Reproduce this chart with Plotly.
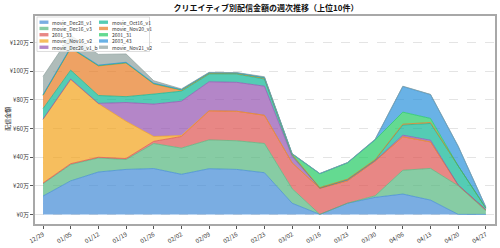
import plotly.graph_objects as go

weeks = ["12/29", "01/05", "01/12", "01/19", "01/26", "02/02", "02/09", "02/16", "02/23",
         "03/02", "03/16", "03/23", "03/30", "04/06", "04/13", "04/20", "04/27"]

# values in 万円
movie_Dec28_v1 = [12.8, 23.4, 29.6, 31.4, 32.0, 28.0, 31.9, 31.4, 29.1, 7.8, 0.0, 7.8, 11.9, 14.2, 10.0, 0.0, 0.0]
movie_Dec16_v3 = [8.6, 11.4, 9.8, 6.9, 17.5, 18.3, 20.1, 20.0, 20.4, 10.2, 0.0, 0.0, 1.1, 16.6, 22.1, 20.0, 2.5]
s2601_33 = [0.5, 0.6, 0.5, 0.7, 1.5, 8.1, 20.3, 20.6, 19.7, 18.0, 18.2, 15.6, 24.2, 23.4, 18.5, 0.4, 0.7]
movie_Nov16_v2 = [44.4, 58.6, 37.4, 26.0, 3.4, 0.6, 0.0, 0.0, 0.0, 0.0, 0.0, 0.0, 0.0, 0.0, 0.0, 0.0, 0.0]
movie_Dec26_v1_b = [0.2, 0.5, 0.2, 13.1, 22.6, 24.0, 20.3, 20.2, 20.3, 4.5, 0.1, 0.6, 0.3, 1.1, 1.2, 0.1, 0.1]
movie_Oct16_v1 = [7.3, 6.2, 5.5, 4.1, 7.0, 7.0, 5.3, 5.7, 5.0, 1.0, 0.2, 0.3, 0.5, 7.1, 11.7, 13.0, 1.0]
movie_Nov20_v1 = [9.2, 15.3, 20.6, 23.4, 7.0, 0.5, 0.5, 0.4, 0.5, 0.3, 0.2, 0.3, 0.3, 0.6, 0.7, 0.3, 0.1]
s2601_31 = [0.3, 0.3, 0.3, 0.3, 0.3, 0.5, 0.3, 0.3, 0.4, 0.4, 9.7, 11.4, 13.7, 8.4, 2.8, 0.0, 0.1]
s2603_43 = [0.3, 0.3, 0.3, 0.3, 0.3, 0.2, 0.2, 0.2, 0.2, 0.1, 0.1, 0.1, 0.3, 17.9, 16.6, 13.7, 0.5]
movie_Nov21_v2 = [12.7, 8.4, 7.5, 5.8, 1.7, 0.4, 0.3, 0.2, 0.5, 0.2, 0.1, 0.1, 0.2, 0.2, 0.2, 0.1, 0.1]

names = ["movie_Dec28_v1", "movie_Dec16_v3", "2601_33", "movie_Nov16_v2", "movie_Dec26_v1_b",
         "movie_Oct16_v1", "movie_Nov20_v1", "2601_31", "2603_43", "movie_Nov21_v2"]
series = [movie_Dec28_v1, movie_Dec16_v3, s2601_33, movie_Nov16_v2, movie_Dec26_v1_b,
          movie_Oct16_v1, movie_Nov20_v1, s2601_31, s2603_43, movie_Nov21_v2]
base_colors = [(65, 138, 214), (84, 183, 126), (222, 84, 81), (242, 162, 26), (148, 83, 177),
               (12, 183, 148), (231, 122, 34), (34, 202, 98), (41, 145, 219), (141, 159, 156)]

ytick_vals = [0, 20, 40, 60, 80, 100, 120]
ytick_text = ["¥%d万" % v for v in ytick_vals]

title = "クリエイティブ別配信金額の週次推移（上位10件）"
ytitle = "配信金額"

FONT = "Noto Sans CJK JP"
W, H = 500, 248
L, R, T, B = 35, 3, 16, 21
pw, ph = W - L - R, H - T - B


def px(x):
    return (x - L) / pw


def py(y):
    return (H - B - y) / ph


fig = go.Figure()
for name, vals, c in zip(names, series, base_colors):
    fig.add_trace(go.Scatter(
        x=weeks, y=vals, name=name, stackgroup="one", mode="lines",
        line=dict(color="rgb(%d,%d,%d)" % c, width=0.7),
        fillcolor="rgba(%d,%d,%d,0.7)" % c, showlegend=False,
    ))

shapes = [dict(type="rect", xref="paper", yref="paper", x0=px(37), x1=px(150), y0=py(52), y1=py(17),
               fillcolor="rgba(255,255,255,0.82)", line=dict(color="#d4d4d4", width=0.8), layer="above")]
annotations = []
for k, (name, c) in enumerate(zip(names, base_colors)):
    col, row = divmod(k, 5)
    yc = 22.3 + row * 6.35
    sx = 39.5 if col == 0 else 99.3
    shapes.append(dict(type="rect", xref="paper", yref="paper", x0=px(sx), x1=px(sx + 9),
                       y0=py(yc + 1.7), y1=py(yc - 1.7),
                       fillcolor="rgba(%d,%d,%d,0.7)" % c, line=dict(width=0), layer="above"))
    annotations.append(dict(xref="paper", yref="paper", x=px(sx + 11), y=py(yc), text=name,
                            showarrow=False, xanchor="left", yanchor="middle",
                            font=dict(family=FONT, size=5, color="#333")))

annotations.append(dict(xref="paper", yref="paper", x=px(7), y=py(120), text=ytitle, textangle=-90,
                        showarrow=False, xanchor="center", yanchor="middle",
                        font=dict(family=FONT, size=6, color="#222")))

fig.update_layout(
    width=W, height=H, margin=dict(l=L, r=R, t=T, b=B),
    paper_bgcolor="white", plot_bgcolor="white",
    title=dict(text="<b>" + title + "</b>", x=(L + pw / 2) / W, xanchor="center",
               y=1 - 8 / H, yanchor="middle", font=dict(family=FONT, size=8, color="#111")),
    shapes=shapes, annotations=annotations,
    font=dict(family=FONT, size=6, color="#333"),
)
fig.update_xaxes(type="category", range=[-0.29, 16.33], showgrid=False, tickangle=-30,
                 ticks="outside", ticklen=3, tickwidth=0.8, tickcolor="#555",
                 showline=True, mirror=True, linecolor="#a8a8a8", linewidth=1.5,
                 tickfont=dict(family=FONT, size=6, color="#333"))
fig.update_yaxes(range=[-6.7, 138.5], tickvals=ytick_vals, ticktext=ytick_text,
                 showgrid=True, gridcolor="#e4e4e4", griddash="dash", gridwidth=0.8, zeroline=False,
                 ticks="outside", ticklen=3, tickwidth=0.8, tickcolor="#555",
                 showline=True, mirror=True, linecolor="#a8a8a8", linewidth=1.5,
                 tickfont=dict(family=FONT, size=6, color="#333"))

fig.write_html("out.html")
